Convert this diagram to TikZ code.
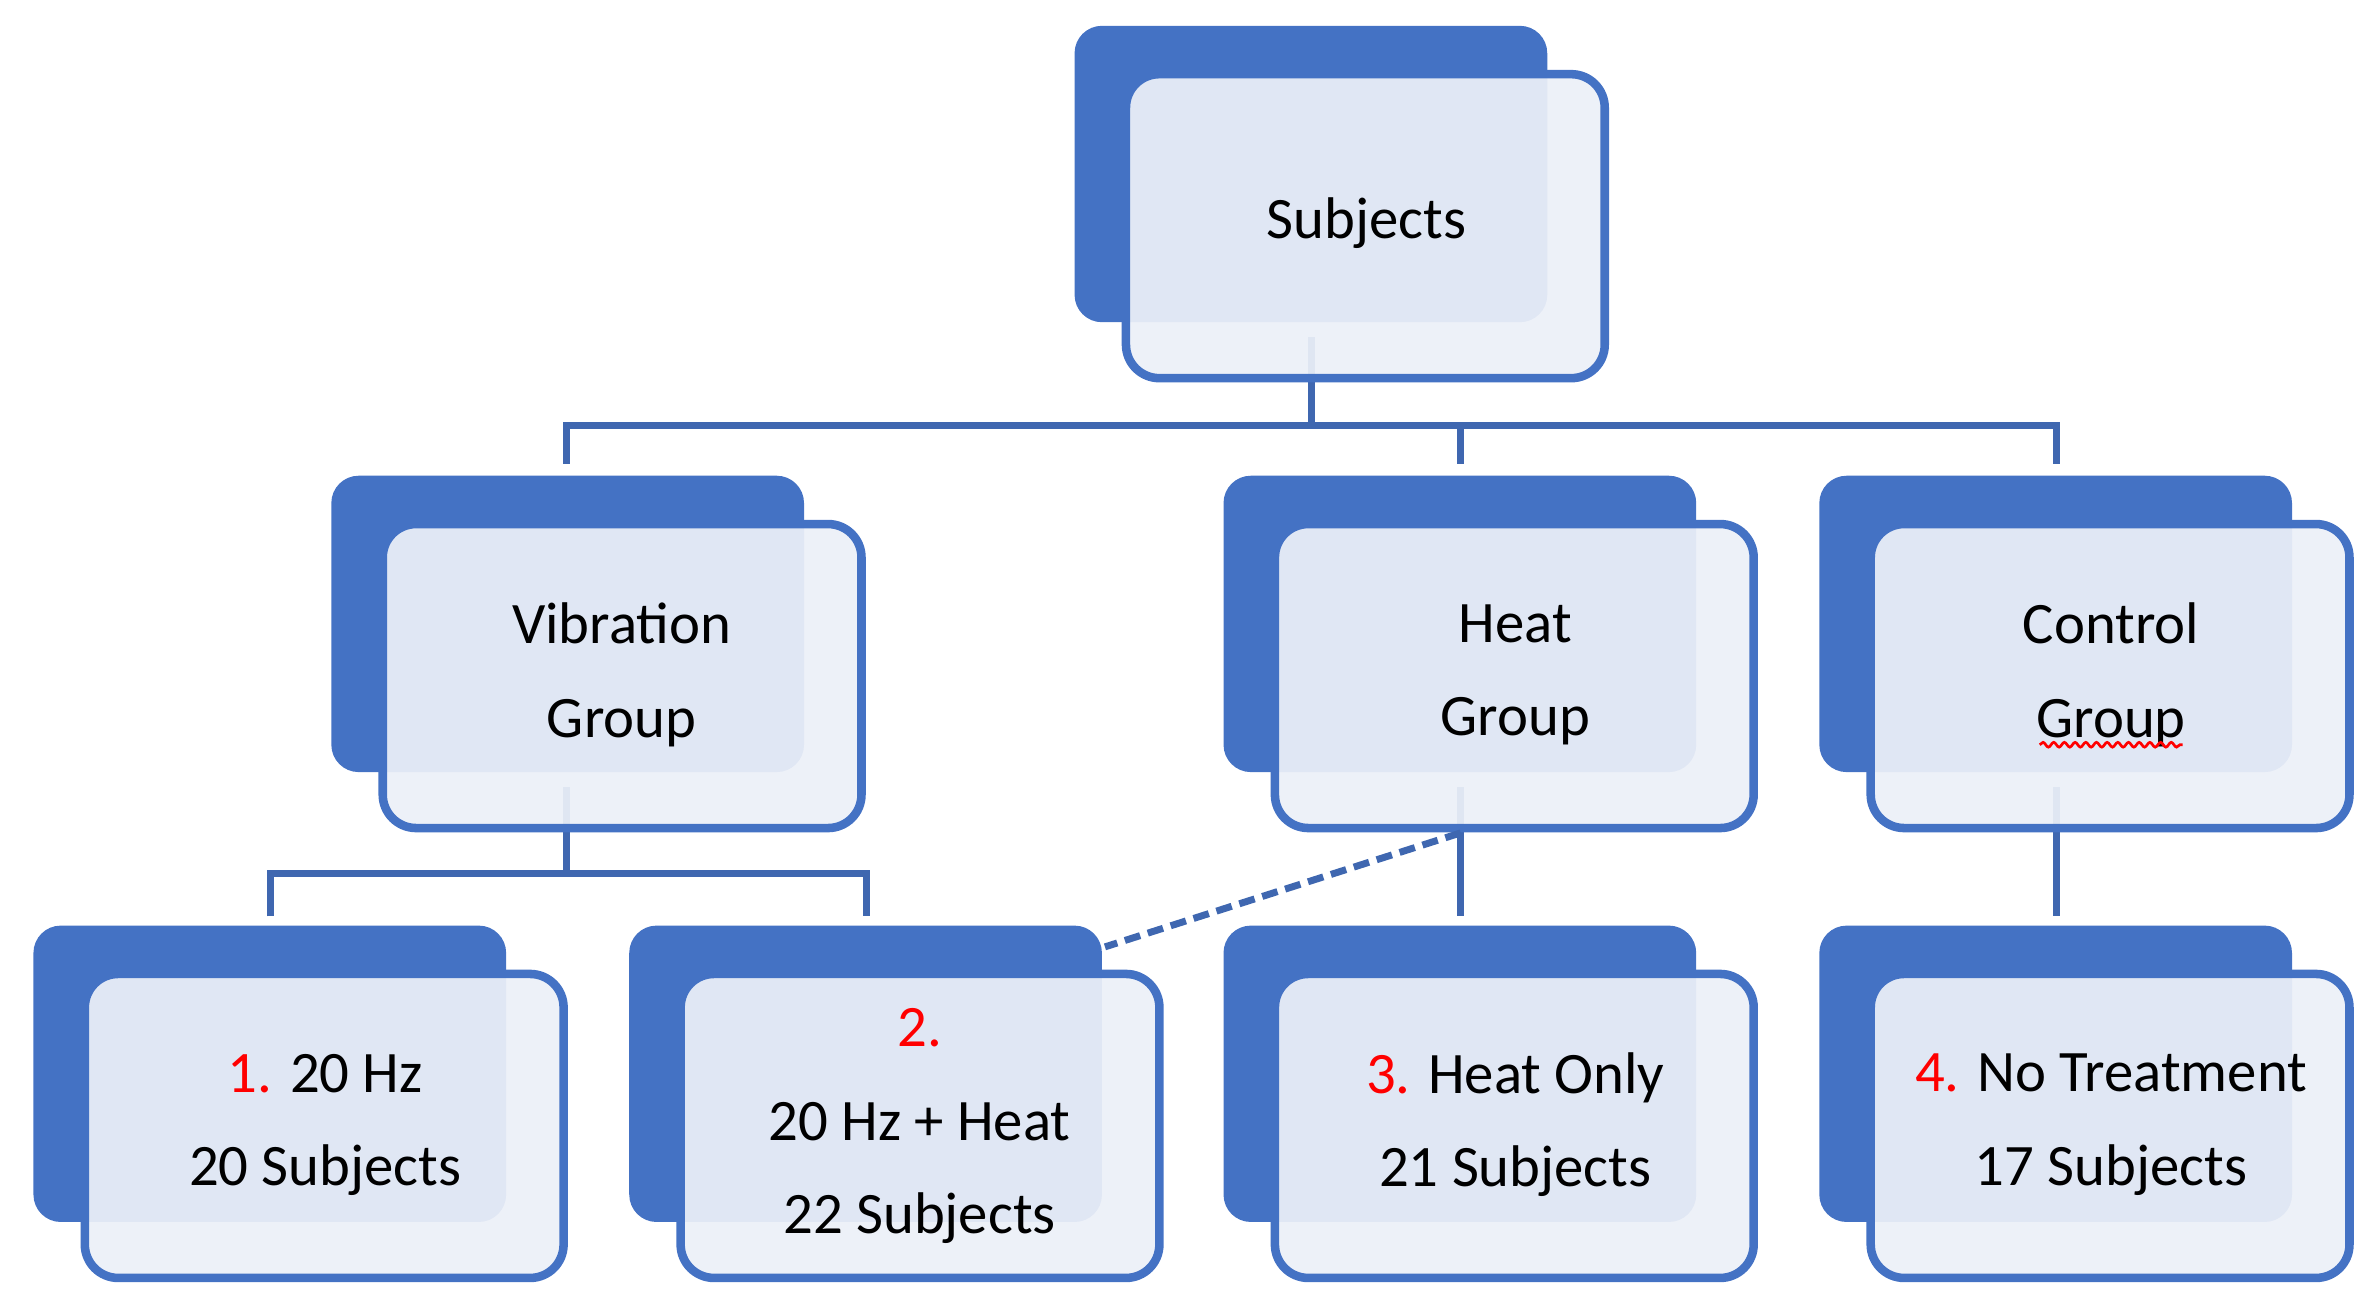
\documentclass[tikz,border=0pt]{standalone}
\usepackage{fontspec}
\setmainfont{Carlito}
\usetikzlibrary{decorations.pathmorphing}
\definecolor{dk}{HTML}{4472C4}
\definecolor{ln}{HTML}{3F67B0}
\definecolor{lt}{HTML}{ECF0F8}
\tikzset{
 back/.style={fill=dk,draw=none,rounded corners=0.18cm,inner sep=0},
 front/.style={draw=dk,line width=1.6pt,fill=lt,fill opacity=0.93,text opacity=1,rounded corners=0.22cm,inner sep=0,align=center},
 conn/.style={draw=ln,line width=1.3pt}
}
\newcommand\mybox[6]{%
 \fill[back] (#2,#3) rectangle ++(3.11,-1.95);
 \node[front,minimum width=3.15cm,minimum height=2.0cm,anchor=north west] (#1) at (#2+0.31,#3-0.29) {};
 \node[font=\fontsize{11}{17.5}\selectfont,align=center] (#1t) at (#4,#5) {#6};
}
\begin{document}
\begin{tikzpicture}
\useasboundingbox (0,0) rectangle (15.6,-8.61);
\coordinate (sv) at (8.63,-2.22);
\coordinate (hj) at (8.63,-2.80);
\draw[conn] (sv) -- (hj);
\draw[conn] (3.73,-3.05) -- (3.73,-2.80) -- (13.53,-2.80) -- (13.53,-3.05);
\draw[conn] (9.61,-2.80) -- (9.61,-3.05);
\draw[conn] (3.73,-5.18) -- (3.73,-5.75);
\draw[conn] (1.78,-6.03) -- (1.78,-5.75) -- (5.70,-5.75) -- (5.70,-6.03);
\draw[conn] (9.61,-5.18) -- (9.61,-6.03);
\draw[conn] (13.53,-5.18) -- (13.53,-6.03);
\mybox{s}{7.07}{-0.17}{8.99}{-1.47}{Subjects}
\mybox{v}{2.18}{-3.13}{4.09}{-4.44}{Vibration\\Group}
\mybox{h}{8.05}{-3.13}{9.97}{-4.44}{Heat\\Group}
\mybox{c}{11.97}{-3.13}{13.89}{-4.44}{Control\\Group}
\mybox{b1}{0.22}{-6.09}{2.14}{-7.4}{{\color{red}1.} 20 Hz\\20 Subjects}
\mybox{b2}{4.14}{-6.09}{6.05}{-7.41}{{\color{red}2.}\\20 Hz + Heat\\22 Subjects}
\mybox{b3}{8.05}{-6.09}{9.97}{-7.4}{{\color{red}3.} Heat Only\\21 Subjects}
\mybox{b4}{11.97}{-6.09}{13.89}{-7.4}{{\color{red}4.} No Treatment\\17 Subjects}
\coordinate (d2) at (7.27,-6.23);
\draw[conn,dashed,dash pattern=on 3pt off 1.5pt] (9.61,-5.48) -- (d2);
\draw[red,line width=0.5pt,decorate,decoration={snake,amplitude=0.45pt,segment length=2pt}] (13.42,-4.90) -- (14.36,-4.90);
\end{tikzpicture}
\end{document}
